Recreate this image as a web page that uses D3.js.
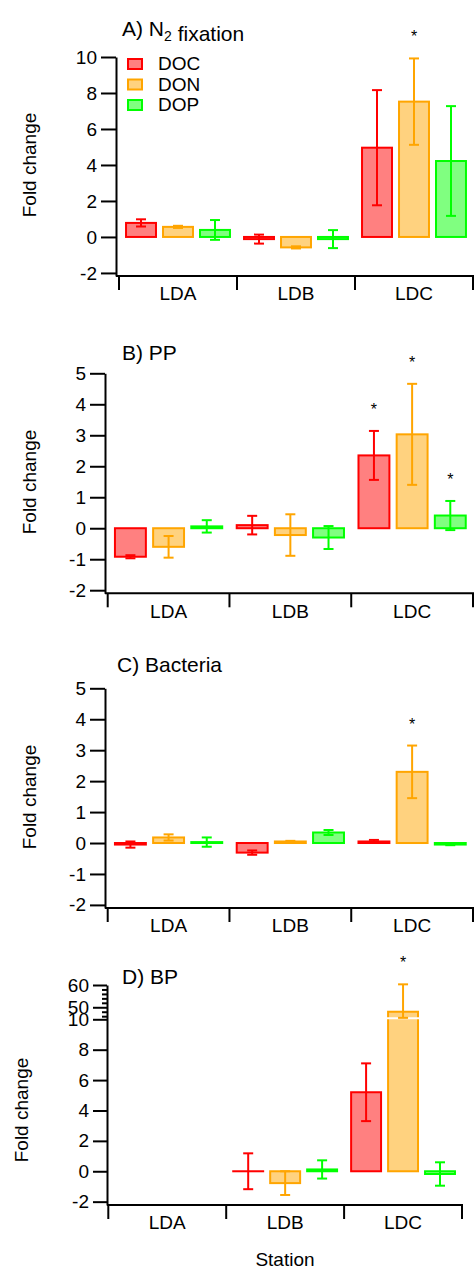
<!DOCTYPE html>
<meta charset="utf-8">
<style>

body {
  margin: 0;
  background: #fff;
}

* {
  font-family: "Liberation Sans", Arial, Helvetica, sans-serif;
}

.axis path, .axis line {
  stroke: #000;
  stroke-width: 2px;
}

.axis text {
  font-size: 19px;
  fill: #000;
}

</style>
<body>

<script src="https://cdn.jsdelivr.net/npm/d3@7"></script>
<script>

var stations = ["LDA", "LDB", "LDC"];
var sources = ["DOC", "DON", "DOP"];
var strokeColors = ["#ff0000", "#ffa500", "#00ff00"];
var fillColors = ["#ff8080", "#ffd27f", "#80ff80"];

// fold change, one row per source (DOC, DON, DOP), one column per station
var n2fixMean = [[0.78, -0.12, 4.96], [0.56, -0.58, 7.52], [0.39, -0.12, 4.22]];
var n2fixErr  = [[0.2, 0.25, 3.2], [0.06, 0.06, 2.4], [0.55, 0.5, 3.05]];
var n2fixStars = [[1, 2]];  // [source, station]

var ppMean = [[-0.92, 0.1, 2.35], [-0.6, -0.22, 3.03], [0.06, -0.3, 0.41]];
var ppErr  = [[0.05, 0.3, 0.79], [0.35, 0.67, 1.63], [0.2, 0.37, 0.47]];
var ppStars = [[0, 2], [1, 2], [2, 2]];

var bactMean = [[-0.05, -0.31, 0.05], [0.18, 0.05, 2.3], [0.03, 0.34, -0.05]];
var bactErr  = [[0.1, 0.07, 0.05], [0.1, 0.02, 0.85], [0.15, 0.08, 0.02]];
var bactStars = [[1, 2]];

// no BP data at LDA
var bpMean = [[null, 0.0, 5.2], [null, -0.78, 48], [null, 0.12, -0.18]];
var bpErr  = [[null, 1.18, 1.9], [null, 0.78, 12.3], [null, 0.6, 0.77]];
var bpStars = [[1, 2]];

var n2fixTicks = [-2, 0, 2, 4, 6, 8, 10];
var ppTicks = [-2, -1, 0, 1, 2, 3, 4, 5];
var bpTicks = [-2, 0, 2, 4, 6, 8, 10, 50, 60];
var bpMinorTicks = [46, 48, 52, 54, 56, 58];

var svg = d3.select("body").append("svg")
    .attr("width", 476)
    .attr("height", 1271);

function panel(p) {
  var y = d3.scaleLinear().domain(p.domain).range(p.yRange);
  var x = d3.scaleBand().domain(stations).range(p.xRange).padding(0);
  var xs = d3.scaleBand().domain(d3.range(sources.length)).range([0, x.bandwidth()]).padding(0.19);
  var yBottom = p.yRange[0];

  var g = svg.append("g");

  // title
  var t = g.append("text")
      .attr("x", p.titleX)
      .attr("y", p.titleY)
      .attr("font-size", "21px");
  p.title.forEach(function(part) {
    if (part.sub) {
      t.append("tspan").attr("dy", 5).attr("font-size", "14px").text(part.text);
      t.append("tspan").attr("dy", -5).text("");
    } else {
      t.append("tspan").text(part.text);
    }
  });

  // y axis (plain hyphen for negatives, like the original)
  g.append("g")
      .attr("class", "axis")
      .attr("transform", "translate(" + p.axisX + ",0)")
      .call(d3.axisLeft(y).tickValues(p.ticks).tickSize(p.tickLen).tickSizeOuter(0).tickPadding(4)
        .tickFormat(function(d) { return String(d); }));

  if (p.minorTicks) {
    g.append("g")
        .attr("class", "axis")
        .attr("transform", "translate(" + p.axisX + ",0)")
        .call(d3.axisLeft(y).tickValues(p.minorTicks).tickSize(5).tickSizeOuter(0).tickFormat(""))
        .select(".domain").remove();
  }

  // x axis: baseline, station boundaries, labels
  var edges = stations.map(function(s) { return x(s); }).concat([x(stations[stations.length - 1]) + x.bandwidth()]);
  g.append("line")
      .attr("x1", p.axisX).attr("x2", edges[edges.length - 1] + 1)
      .attr("y1", yBottom).attr("y2", yBottom)
      .attr("stroke", "#000").attr("stroke-width", 2);
  g.selectAll(".edge").data(edges).enter().append("line")
      .attr("x1", function(d) { return d; }).attr("x2", function(d) { return d; })
      .attr("y1", yBottom).attr("y2", yBottom + 14)
      .attr("stroke", "#000").attr("stroke-width", 2);
  var xa = g.append("g")
      .attr("class", "axis")
      .attr("transform", "translate(0," + yBottom + ")")
      .call(d3.axisBottom(x).tickSize(0).tickPadding(11));
  xa.select(".domain").remove();

  // y label
  g.append("text")
      .attr("text-anchor", "middle")
      .attr("transform", "translate(" + p.labelX + "," + p.labelY + ")rotate(-90)")
      .attr("font-size", "19px")
      .text("Fold change");

  // bars
  var rows = [];
  p.mean.forEach(function(row, si) {
    row.forEach(function(v, ci) {
      if (v === null) return;
      rows.push({s: si, c: ci, v: v, e: p.err[si][ci]});
    });
  });

  g.selectAll(".bar").data(rows).enter().append("rect")
      .attr("x", function(d) { return x(stations[d.c]) + xs(d.s); })
      .attr("width", xs.bandwidth())
      .attr("y", function(d) { return y(Math.max(0, d.v)); })
      .attr("height", function(d) { return Math.max(0.01, Math.abs(y(d.v) - y(0))); })
      .attr("fill", function(d) { return fillColors[d.s]; })
      .attr("stroke", function(d) { return strokeColors[d.s]; })
      .attr("stroke-width", 2);

  // axis break across tall bars
  if (p.breakAt) {
    var yb = (y(p.breakAt[0]) + y(p.breakAt[1])) / 2;
    g.selectAll(".brk").data(rows.filter(function(d) { return d.v > p.breakAt[1]; })).enter().append("line")
        .attr("x1", function(d) { return x(stations[d.c]) + xs(d.s) - 1.5; })
        .attr("x2", function(d) { return x(stations[d.c]) + xs(d.s) + xs.bandwidth() + 1.5; })
        .attr("y1", yb).attr("y2", yb)
        .attr("stroke", "#fff").attr("stroke-width", 2);
  }

  // error bars
  var eb = g.selectAll(".err").data(rows).enter().append("g")
      .attr("stroke", function(d) { return strokeColors[d.s]; })
      .attr("stroke-width", 2);
  eb.append("line")
      .attr("x1", function(d) { return x(stations[d.c]) + xs(d.s) + xs.bandwidth() / 2; })
      .attr("x2", function(d) { return x(stations[d.c]) + xs(d.s) + xs.bandwidth() / 2; })
      .attr("y1", function(d) { return y(d.v - d.e); })
      .attr("y2", function(d) { return y(d.v + d.e); });
  [-1, 1].forEach(function(k) {
    eb.filter(function(d) { return !(p.breakAt && k < 0 && d.v - d.e > p.breakAt[0]); })
      .append("line")
        .attr("x1", function(d) { return x(stations[d.c]) + xs(d.s) + xs.bandwidth() / 2 - 5; })
        .attr("x2", function(d) { return x(stations[d.c]) + xs(d.s) + xs.bandwidth() / 2 + 5; })
        .attr("y1", function(d) { return y(d.v + k * d.e); })
        .attr("y2", function(d) { return y(d.v + k * d.e); });
  });

  // significance stars
  g.selectAll(".star").data(p.stars).enter().append("text")
      .attr("text-anchor", "middle")
      .attr("font-size", "16px")
      .attr("x", function(d) { return x(stations[d[1]]) + xs(d[0]) + xs.bandwidth() / 2; })
      .attr("y", function(d) { return y(p.mean[d[0]][d[1]] + p.err[d[0]][d[1]]) - 16; })
      .text("*");

  // legend
  if (p.legend) {
    var lg = g.selectAll(".lg").data(sources).enter().append("g")
        .attr("transform", function(d, i) { return "translate(128," + (59 + i * 20.5) + ")"; });
    lg.append("rect")
        .attr("width", 14).attr("height", 10)
        .attr("fill", function(d, i) { return fillColors[i]; })
        .attr("stroke", function(d, i) { return strokeColors[i]; })
        .attr("stroke-width", 2);
    lg.append("text")
        .attr("x", 30).attr("y", 11)
        .attr("font-size", "19px")
        .text(function(d) { return d; });
  }
}

panel({
  title: [{text: "A) N"}, {text: "2", sub: true}, {text: " fixation"}],
  mean: n2fixMean, err: n2fixErr, stars: n2fixStars, ticks: n2fixTicks,
  domain: [-2.17, 10], yRange: [276, 57], axisX: 116, tickLen: 15,
  xRange: [119, 473], titleX: 122, titleY: 36, labelX: 36, labelY: 165, legend: true
});

panel({
  title: [{text: "B) PP"}],
  mean: ppMean, err: ppErr, stars: ppStars, ticks: ppTicks,
  domain: [-2.1, 5], yRange: [593.3, 373.3], axisX: 105, tickLen: 15,
  xRange: [107.7, 473], titleX: 122, titleY: 360, labelX: 36, labelY: 482
});

panel({
  title: [{text: "C) Bacteria"}],
  mean: bactMean, err: bactErr, stars: bactStars, ticks: ppTicks,
  domain: [-2.1, 5], yRange: [908, 688.3], axisX: 105, tickLen: 15,
  xRange: [107.7, 473], titleX: 117, titleY: 672, labelX: 36, labelY: 797
});

panel({
  title: [{text: "D) BP"}],
  mean: bpMean, err: bpErr, stars: bpStars, ticks: bpTicks, minorTicks: bpMinorTicks,
  domain: [-2.22, 10, 45.5, 60], yRange: [1205, 1019.3, 1017.3, 985], axisX: 107, tickLen: 14,
  breakAt: [45.5, 10],
  xRange: [108.3, 462], titleX: 122, titleY: 984, labelX: 28, labelY: 1110
});

svg.append("text")
    .attr("text-anchor", "middle")
    .attr("x", 285)
    .attr("y", 1266)
    .attr("font-size", "19px")
    .text("Station");

</script>
</body>
</html>
